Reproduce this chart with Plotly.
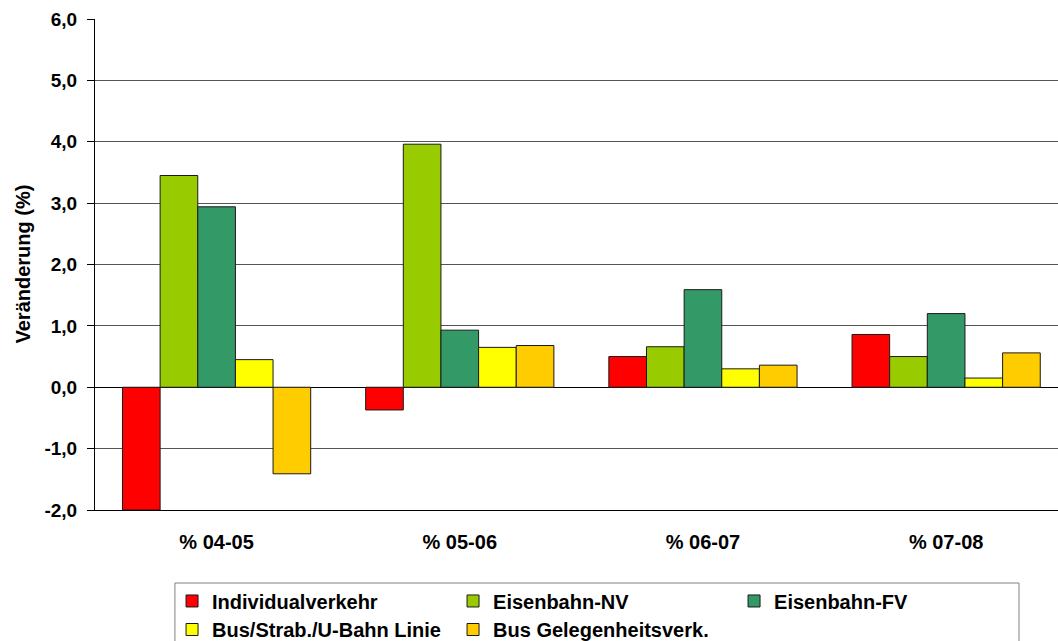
import plotly.graph_objects as go

# Periods and change rates (%) per transport mode
periods = ["% 04-05", "% 05-06", "% 06-07", "% 07-08"]

individualverkehr = [-2.00, -0.37, 0.50, 0.86]
eisenbahn_nv = [3.45, 3.96, 0.66, 0.50]
eisenbahn_fv = [2.94, 0.93, 1.59, 1.20]
bus_linie = [0.45, 0.65, 0.30, 0.15]
bus_gelegenheit = [-1.41, 0.68, 0.36, 0.56]

series_names = [
    "Individualverkehr",
    "Eisenbahn-NV",
    "Eisenbahn-FV",
    "Bus/Strab./U-Bahn Linie",
    "Bus Gelegenheitsverk.",
]
series_values = [individualverkehr, eisenbahn_nv, eisenbahn_fv, bus_linie, bus_gelegenheit]
series_colors = ["#FF0000", "#99CC00", "#339966", "#FFFF00", "#FFCC00"]

y_ticks = [-2, -1, 0, 1, 2, 3, 4, 5, 6]
y_tick_labels = ["-2,0", "-1,0", "0,0", "1,0", "2,0", "3,0", "4,0", "5,0", "6,0"]
boundary_ticks = [0.5, 1.5, 2.5]
y_title = "Veränderung (%)"

FONT = "Arial, Liberation Sans, sans-serif"

# legend grid (paper coords): three columns, two rows, one legend box per entry
col_x = [0.0800, 0.3718, 0.6636]
row_y = [-0.1853, -0.2434]
legend_slots = [
    ("legend", col_x[0], row_y[0]),
    ("legend2", col_x[1], row_y[0]),
    ("legend3", col_x[2], row_y[0]),
    ("legend4", col_x[0], row_y[1]),
    ("legend5", col_x[1], row_y[1]),
]

fig = go.Figure()
for name, vals, col, slot in zip(series_names, series_values, series_colors, legend_slots):
    fig.add_trace(go.Bar(
        x=periods, y=vals, name=name,
        marker=dict(color=col, line=dict(color="#1a1a1a", width=1)),
        legend=slot[0],
    ))

layout_legends = {}
for key, lx, ly in legend_slots:
    layout_legends[key] = dict(
        x=lx, y=ly, xanchor="left", yanchor="middle",
        bgcolor="rgba(0,0,0,0)", borderwidth=0,
        font=dict(family=FONT, size=20, color="black", weight="bold"),
        itemclick=False, itemdoubleclick=False,
    )

fig.update_layout(
    width=1058, height=641,
    margin=dict(l=95, r=0, t=19, b=131, pad=0, autoexpand=False),
    paper_bgcolor="white", plot_bgcolor="white",
    barmode="group", bargap=0.226, bargroupgap=0,
    separators=",.",
    showlegend=True,
    font=dict(family=FONT, color="black"),
    xaxis=dict(
        type="category", categoryorder="array", categoryarray=periods,
        range=[-0.5, 3.46], automargin=False,
        showline=True, linecolor="black", linewidth=1,
        showgrid=False, zeroline=False, ticks="",
        tickfont=dict(family=FONT, size=20, color="black", weight="bold"),
        ticklabelstandoff=14,
    ),
    xaxis2=dict(
        overlaying="x", anchor="free", position=0.25,
        range=[-0.5, 3.46], tickvals=boundary_ticks, automargin=False,
        ticks="outside", ticklen=6, tickcolor="black", tickwidth=1,
        showticklabels=False, showgrid=False, zeroline=False, showline=False,
    ),
    yaxis=dict(
        range=[-2, 6], tickvals=y_ticks, ticktext=y_tick_labels, automargin=False,
        showline=True, linecolor="black", linewidth=1,
        showgrid=True, gridcolor="#555555", gridwidth=1,
        zeroline=True, zerolinecolor="black", zerolinewidth=1,
        ticks="outside", ticklen=7, tickcolor="black",
        tickfont=dict(family=FONT, size=19, color="black", weight="bold"),
        ticklabelstandoff=6,
    ),
    annotations=[dict(
        text=y_title, xref="paper", yref="paper", x=-0.0758, y=0.5,
        xanchor="center", yanchor="middle", textangle=-90, showarrow=False,
        font=dict(family=FONT, size=20, color="black", weight="bold"),
    )],
    shapes=[dict(
        type="rect", xref="paper", yref="paper",
        x0=0.083, x1=0.9595, y0=-0.1487, y1=-0.29,
        line=dict(color="#808080", width=1), fillcolor="rgba(0,0,0,0)",
        layer="below",
    )],
    **layout_legends,
)

fig.write_html("out.html")
